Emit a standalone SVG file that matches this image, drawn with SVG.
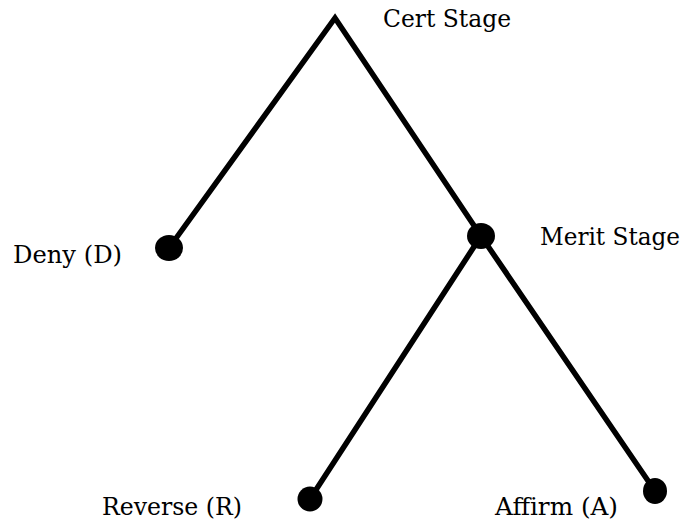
<svg xmlns="http://www.w3.org/2000/svg" width="685" height="523" viewBox="0 0 685 523">
<style>
.lbl{font-family:"DejaVu Serif","Liberation Serif",serif;font-size:23.5px;fill:#000}
.edge{stroke:#000;stroke-width:5.5;fill:none;stroke-linecap:butt;stroke-linejoin:miter}
.dot{fill:#000}
</style>
<rect width="685" height="523" fill="#fff"/>
<g id="connectors">
<polyline class="edge" points="169,248 335,18 481,236"/>
<polyline class="edge" points="310,499 481,236 655,491"/>
</g>
<g id="cert"><text class="lbl" x="383" y="27" textLength="128" lengthAdjust="spacingAndGlyphs">Cert Stage</text></g>
<g id="deny"><ellipse class="dot" cx="169" cy="248" rx="14" ry="13"/><text class="lbl" x="13" y="263" textLength="109" lengthAdjust="spacingAndGlyphs">Deny (D)</text></g>
<g id="merit"><ellipse class="dot" cx="481" cy="236" rx="14" ry="13"/><text class="lbl" x="540" y="245" textLength="140" lengthAdjust="spacingAndGlyphs">Merit Stage</text></g>
<g id="reverse"><ellipse class="dot" cx="310" cy="499" rx="12.5" ry="12.5"/><text class="lbl" x="102" y="515" textLength="140" lengthAdjust="spacingAndGlyphs">Reverse (R)</text></g>
<g id="affirm"><ellipse class="dot" cx="655" cy="491" rx="12" ry="13"/><text class="lbl" x="495" y="515" textLength="123" lengthAdjust="spacingAndGlyphs">Affirm (A)</text></g>
</svg>
